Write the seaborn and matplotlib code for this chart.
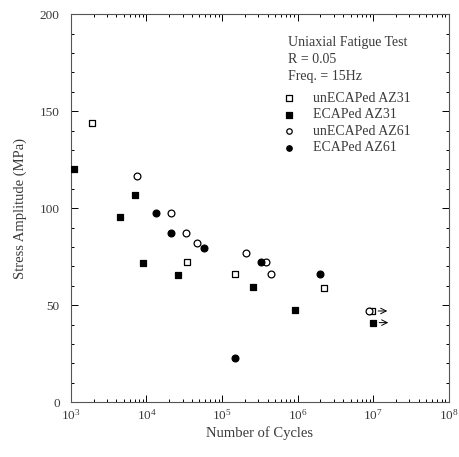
import numpy as np
import pandas as pd
import seaborn as sns
import matplotlib
matplotlib.use('Agg')
import matplotlib.pyplot as plt
from matplotlib.ticker import LogLocator, MultipleLocator, LogFormatterSciNotation

# Data (cycles, stress amplitude in MPa)
un_az31_cycles = [1.9e3, 3.4e4, 1.46e5, 2.2e6, 9.5e6]
un_az31_stress = [144, 72, 66, 59, 47]
un_az31_runout = [False, False, False, False, True]

ec_az31_cycles = [1.1e3, 4.5e3, 7.1e3, 9.1e3, 2.6e4, 2.6e5, 9.3e5, 9.8e6]
ec_az31_stress = [120, 95.5, 107, 71.5, 65.5, 59.5, 47.5, 41]
ec_az31_runout = [False, False, False, False, False, False, False, True]

un_az61_cycles = [7.6e3, 2.1e4, 3.3e4, 4.6e4, 2.1e5, 3.85e5, 4.5e5, 8.7e6]
un_az61_stress = [116.5, 97.5, 87, 82, 77, 72.5, 66, 47]
un_az61_runout = [False, False, False, False, False, False, False, False]

ec_az61_cycles = [1.35e4, 2.1e4, 5.7e4, 3.3e5, 2.0e6, 1.46e5]
ec_az61_stress = [97.5, 87, 79.5, 72.5, 66, 23]
ec_az61_runout = [False, False, False, False, False, False]

series_names = ['unECAPed AZ31', 'ECAPed AZ31', 'unECAPed AZ61', 'ECAPed AZ61']
info_lines = ['Uniaxial Fatigue Test', 'R = 0.05', 'Freq. = 15Hz']

frames = []
for name, c, s, r in zip(series_names,
                         [un_az31_cycles, ec_az31_cycles, un_az61_cycles, ec_az61_cycles],
                         [un_az31_stress, ec_az31_stress, un_az61_stress, ec_az61_stress],
                         [un_az31_runout, ec_az31_runout, un_az61_runout, ec_az61_runout]):
    frames.append(pd.DataFrame({'cycles': c, 'stress': s, 'runout': r, 'series': name}))
df = pd.concat(frames, ignore_index=True)

sns.set_style('ticks')
plt.rcParams['font.family'] = ['Liberation Serif', 'DejaVu Serif']
plt.rcParams['mathtext.fontset'] = 'stix'

txt = '#3a3a3a'
styles = {
    'unECAPed AZ31': dict(marker='s', facecolor='white', s=24),
    'ECAPed AZ31': dict(marker='s', facecolor='black', s=24),
    'unECAPed AZ61': dict(marker='o', facecolor='white', s=24),
    'ECAPed AZ61': dict(marker='o', facecolor='black', s=24),
}

fig = plt.figure(figsize=(4.6, 4.57), dpi=100)
ax = fig.add_axes([0.154, 0.120, 0.822, 0.849])

for name in series_names:
    sub = df[df['series'] == name]
    st = styles[name]
    sns.scatterplot(data=sub, x='cycles', y='stress', ax=ax, marker=st['marker'],
                    s=st['s'], color=st['facecolor'], edgecolor='black',
                    linewidth=0.9, label=name, zorder=3)

# run-out arrows
for _, row in df[df['runout']].iterrows():
    ax.annotate('', xy=(row['cycles'] * 1.75, row['stress']),
                xytext=(row['cycles'] * 1.12, row['stress']),
                arrowprops=dict(arrowstyle='->', lw=0.7, color='black'))

ax.set_xscale('log')
ax.set_xlim(1e3, 1e8)
ax.set_ylim(0, 200)
ax.xaxis.set_major_locator(LogLocator(base=10))
ax.xaxis.set_minor_locator(LogLocator(base=10, subs=np.arange(2, 10)))
ax.xaxis.set_major_formatter(LogFormatterSciNotation())
ax.yaxis.set_major_locator(MultipleLocator(50))
ax.yaxis.set_minor_locator(MultipleLocator(10))
ax.tick_params(which='both', direction='in', top=True, right=True,
               colors='black', labelcolor=txt, labelsize=9.5, width=0.7)
ax.tick_params(which='major', length=5)
ax.tick_params(which='minor', length=2.5)
ax.tick_params(axis='x', pad=4)
ax.tick_params(axis='y', pad=8)
for sp in ax.spines.values():
    sp.set_visible(True)
    sp.set_linewidth(0.8)
    sp.set_color('#555555')

ax.set_xlabel('Number of Cycles', fontsize=10.5, color=txt, labelpad=3)
ax.set_ylabel('Stress Amplitude (MPa)', fontsize=10.5, color=txt, labelpad=9)

# test conditions block above the legend
ax.text(0.574, 0.945, '\n'.join(info_lines), transform=ax.transAxes,
        ha='left', va='top', fontsize=10, color=txt, linespacing=1.42)

leg = ax.legend(loc='upper left', bbox_to_anchor=(0.566, 0.80), frameon=False,
                fontsize=10, handletextpad=1.4, labelspacing=0.25,
                borderaxespad=0.0, borderpad=0.0, markerscale=0.8,
                handlelength=0.6)
plt.setp(leg.get_texts(), color=txt)

fig.savefig('out.png', dpi=100)
